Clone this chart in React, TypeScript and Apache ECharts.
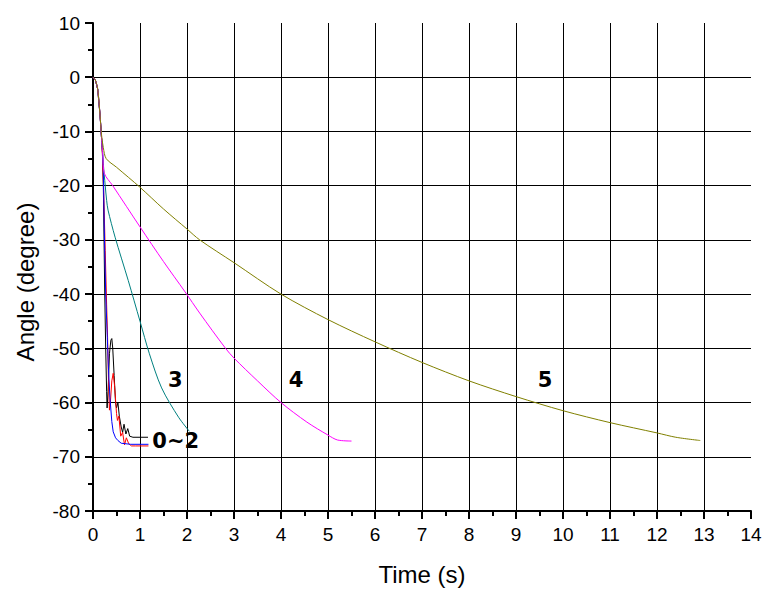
import React, { useEffect, useRef } from "react";
import * as echarts from "echarts";

// Curve data: [time (s), angle (degree)]
const curve0Black: number[][] = [
  [0, 0], [0.05, -0.5], [0.1, -2.2], [0.15, -7], [0.18, -11], [0.2, -14], [0.22, -20],
  [0.25, -40], [0.27, -50], [0.29, -58], [0.3, -61], [0.32, -58], [0.35, -51],
  [0.38, -48.5], [0.4, -48.2], [0.42, -50], [0.45, -55], [0.48, -60], [0.5, -61],
  [0.53, -60], [0.56, -62.5], [0.6, -64.5], [0.63, -65.5], [0.66, -64], [0.7, -65.8],
  [0.74, -64.8], [0.78, -66.2], [0.85, -66.4], [1.17, -66.4],
];
const curve1Red: number[][] = [
  [0, 0], [0.05, -0.5], [0.1, -2.2], [0.15, -7], [0.18, -11], [0.2, -14], [0.23, -22],
  [0.26, -32], [0.29, -42], [0.31, -48], [0.33, -56], [0.35, -61.4], [0.37, -60],
  [0.4, -56], [0.43, -54.6], [0.46, -57], [0.5, -62], [0.52, -63.3], [0.55, -62.5],
  [0.59, -66.2], [0.63, -65.5], [0.67, -67.8], [0.71, -66.5], [0.76, -67.6],
  [0.82, -68], [0.9, -68], [1.18, -68],
];
const curve2Blue: number[][] = [
  [0, 0], [0.05, -0.5], [0.1, -2.2], [0.15, -7], [0.18, -11], [0.2, -13], [0.22, -17],
  [0.24, -28], [0.27, -40], [0.3, -47], [0.33, -54], [0.36, -59], [0.4, -63.5],
  [0.43, -65.4], [0.48, -66.5], [0.53, -67], [0.6, -67.5], [0.8, -67.7], [1.18, -67.7],
];
const curve3Teal: number[][] = [
  [0, 0], [0.05, -0.5], [0.1, -2.2], [0.15, -7], [0.18, -11], [0.22, -16], [0.26, -20],
  [0.29, -22.7], [0.32, -24.5], [0.47, -29.5], [0.75, -37.5], [1, -45], [1.2, -51],
  [1.46, -57.3], [1.82, -62.7], [2.05, -65.3],
];
const curve4Magenta: number[][] = [
  [0, 0], [0.05, -0.5], [0.1, -2.2], [0.15, -7], [0.18, -11], [0.21, -14.5], [0.24, -17.7],
  [0.42, -20], [1, -27.6], [1.5, -34], [1.96, -39.6], [2.27, -43.5], [2.82, -50],
  [3, -51.8], [3.5, -56], [4, -60], [4.55, -63.6], [5, -66], [5.2, -66.9], [5.5, -67.1],
];
const curve5Olive: number[][] = [
  [0, 0], [0.05, -0.5], [0.1, -2.2], [0.15, -7], [0.18, -10.5], [0.22, -13], [0.28, -15],
  [0.5, -16.6], [1, -20.3], [1.5, -24.3], [2, -28], [2.27, -30], [3, -34.2], [4, -40],
  [5, -44.7], [6, -48.8], [7, -52.6], [8, -56], [9, -58.9], [10, -61.5], [11, -63.7],
  [12, -65.6], [12.4, -66.4], [12.92, -67],
];

const seriesNames = ["0", "1", "2", "3", "4", "5"];
const seriesColors = ["#000000", "#ff0000", "#0000ff", "#008080", "#ff00ff", "#808000"];
const seriesData = [curve0Black, curve1Red, curve2Blue, curve3Teal, curve4Magenta, curve5Olive];
const seriesSmooth = [false, false, false, 0.3, 0.3, 0.3];

// Annotation labels (centers in data coordinates)
const noteTexts = ["3", "4", "5", "0~2"];
const noteX = [1.75, 4.32, 9.62, 1.76];
const noteY = [-55.9, -55.9, -55.9, -67];

const xTickMin = 0;
const xTickMax = 14;
const yTickMin = -80;
const yTickMax = 10;

export default function App() {
  const ref = useRef<HTMLDivElement>(null);
  useEffect(() => {
    if (!ref.current) return;
    const chart = echarts.init(ref.current, undefined, { renderer: "svg" });
    const axisCommon = {
      type: "value" as const,
      axisLine: { show: true, onZero: false, lineStyle: { color: "#000", width: 2 } },
      axisTick: { show: true, inside: false, length: 8, lineStyle: { color: "#000", width: 2 } },
      minorTick: { show: true, splitNumber: 2, length: 5, lineStyle: { color: "#000", width: 2 } },
      splitLine: {
        show: true,
        showMinLine: false,
        showMaxLine: false,
        lineStyle: { color: "#000", width: 1 },
      },
      axisLabel: { color: "#000", fontSize: 19, fontFamily: "Arial, 'Liberation Sans'" },
      nameTextStyle: { color: "#000", fontSize: 24, fontFamily: "Arial, 'Liberation Sans'" },
      nameLocation: "middle" as const,
    };
    const option: any = {
      animation: false,
      backgroundColor: "#fff",
      grid: { left: 93, top: 23, width: 658, height: 488, containLabel: false },
      xAxis: {
        ...axisCommon,
        min: xTickMin,
        max: xTickMax,
        interval: 1,
        name: "Time (s)",
        nameGap: 51,
        axisLabel: { ...axisCommon.axisLabel, margin: 14 },
      },
      yAxis: {
        ...axisCommon,
        min: yTickMin,
        max: yTickMax,
        interval: 10,
        name: "Angle (degree)",
        nameGap: 56,
        nameRotate: 90,
        nameTextStyle: { ...axisCommon.nameTextStyle, padding: [0, 30, 0, 0] },
        axisLabel: { ...axisCommon.axisLabel, margin: 13 },
      },
      series: seriesData.map((d, i) => ({
        type: "line",
        name: seriesNames[i],
        data: d,
        showSymbol: false,
        symbol: "none",
        smooth: seriesSmooth[i],
        lineStyle: { color: seriesColors[i], width: 1 },
        itemStyle: { color: seriesColors[i] },
        z: 3,
      })),
    };
    chart.setOption(option);
    const graphics = noteTexts.map((t, i) => {
      const p = chart.convertToPixel({ gridIndex: 0 }, [noteX[i], noteY[i]]) as number[];
      return {
        type: "text",
        x: p[0],
        y: p[1],
        z: 10,
        style: {
          text: t,
          fill: "#000",
          font: "bold 21px 'DejaVu Sans'",
          textAlign: "center",
          textVerticalAlign: "middle",
        },
      };
    });
    chart.setOption({ graphic: graphics });
    return () => chart.dispose();
  }, []);
  return <div ref={ref} style={{ width: 782, height: 600, position: "absolute", left: 0, top: 0 }} />;
}
